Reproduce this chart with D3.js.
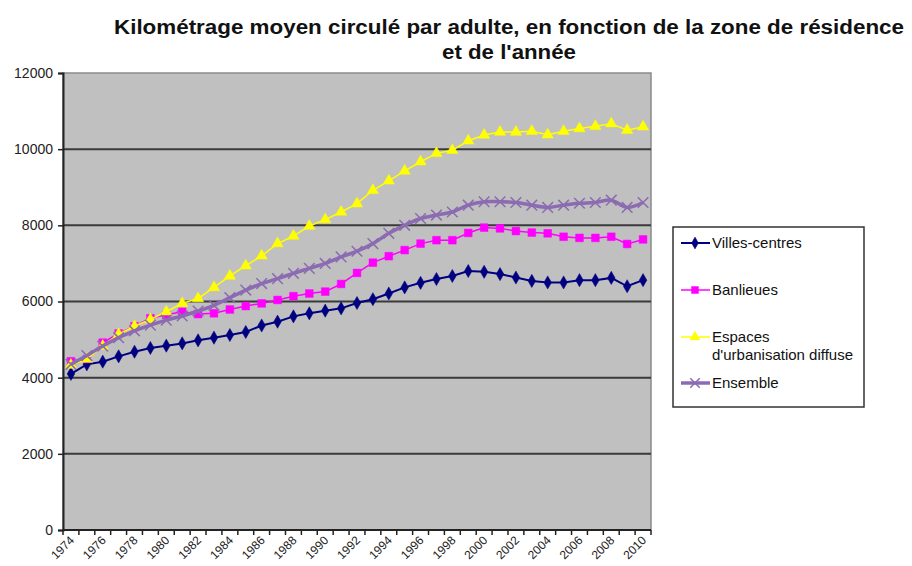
<!DOCTYPE html>
<html>
<head>
<meta charset="utf-8">
<script src="https://cdn.jsdelivr.net/npm/d3@7"></script>
<style>
  body { margin: 0; background: #fff; }
  text { font-family: "Liberation Sans", Arial, sans-serif; }
</style>
</head>
<body>
<svg id="chart" width="912" height="566"></svg>
<script>
const years = d3.range(1974, 2011);
const yearLabels = years.filter((y) => y % 2 === 0);
const yTicks = [0, 2000, 4000, 6000, 8000, 10000, 12000];

const villesCentres = [4100, 4350, 4420, 4560, 4680, 4780, 4840, 4900, 4980, 5050,
  5120, 5200, 5370, 5470, 5610, 5690, 5760, 5820, 5960, 6060, 6210, 6370, 6490,
  6590, 6670, 6800, 6780, 6720, 6630, 6540, 6500, 6500, 6560, 6560, 6620, 6400, 6560];
const banlieues = [4430, 4490, 4920, 5160, 5350, 5560, 5650, 5730, 5670, 5690,
  5790, 5880, 5950, 6040, 6140, 6210, 6260, 6460, 6750, 7020, 7190, 7350, 7520,
  7610, 7610, 7800, 7940, 7920, 7850, 7810, 7790, 7700, 7670, 7670, 7700, 7510, 7630];
const espacesDiffus = [4330, 4490, 4830, 5140, 5350, 5530, 5730, 5950, 6080, 6370,
  6670, 6940, 7200, 7520, 7720, 7980, 8150, 8350, 8570, 8920, 9170, 9430, 9670,
  9890, 9970, 10220, 10370, 10450, 10450, 10470, 10380, 10470, 10540, 10600, 10670, 10500, 10590];
const ensemble = [4350, 4580, 4830, 5050, 5230, 5380, 5510, 5620, 5750, 5900,
  6100, 6300, 6470, 6600, 6740, 6870, 7000, 7170, 7320, 7520, 7790, 8000, 8180,
  8270, 8350, 8530, 8620, 8620, 8600, 8530, 8470, 8530, 8580, 8600, 8660, 8470, 8600];

const seriesNames = ["Villes-centres", "Banlieues", ["Espaces", "d'urbanisation diffuse"], "Ensemble"];

const svg = d3.select("#chart");
const plot = { left: 63, right: 651, top: 73, bottom: 530 };

const xScale = d3.scaleBand().domain(years).range([plot.left, plot.right]);
const yScale = d3.scaleLinear().domain([0, 12000]).range([plot.bottom, plot.top]);
const xc = (d, i) => xScale(years[i]) + xScale.bandwidth() / 2;

// title
const title = svg.append("text")
  .attr("text-anchor", "middle")
  .style("font-weight", "bold")
  .style("font-size", "20px")
  .attr("fill", "#111");
title.append("tspan").attr("x", 509).attr("y", 34)
  .attr("textLength", 790).attr("lengthAdjust", "spacingAndGlyphs")
  .text("Kilométrage moyen circulé par adulte, en fonction de la zone de résidence");
title.append("tspan").attr("x", 509).attr("y", 59)
  .attr("textLength", 134).attr("lengthAdjust", "spacingAndGlyphs")
  .text("et de l'année");

// plot area
svg.append("rect")
  .attr("x", plot.left).attr("y", plot.top)
  .attr("width", plot.right - plot.left).attr("height", plot.bottom - plot.top)
  .attr("fill", "#c0c0c0").attr("stroke", "#8a8a8a").attr("stroke-width", 1.5);

// gridlines
svg.append("g")
  .selectAll("line")
  .data(yTicks.filter((t) => t > 0 && t < 12000))
  .join("line")
  .attr("x1", plot.left).attr("x2", plot.right)
  .attr("y1", (d) => yScale(d)).attr("y2", (d) => yScale(d))
  .attr("stroke", "#3a3a3a").attr("stroke-width", 2);

// y axis
const yAxis = d3.axisLeft(yScale).tickValues(yTicks).tickSize(5).tickPadding(5).tickFormat(d3.format("d"));
const yG = svg.append("g").attr("transform", `translate(${plot.left},0)`).call(yAxis);
yG.select(".domain").attr("stroke", "#222").attr("stroke-width", 2);
yG.selectAll(".tick line").attr("stroke", "#222").attr("stroke-width", 1.5);
yG.selectAll("text").style("font-size", "14px").attr("fill", "#222")
  .style("font-family", "'Liberation Sans', Arial, sans-serif");

// x axis: ticks between categories
svg.append("line")
  .attr("x1", plot.left).attr("x2", plot.right)
  .attr("y1", plot.bottom).attr("y2", plot.bottom)
  .attr("stroke", "#222").attr("stroke-width", 2);
svg.append("g")
  .selectAll("line")
  .data(years.concat([2011]))
  .join("line")
  .attr("x1", (d) => (d === 2011 ? plot.right : xScale(d)))
  .attr("x2", (d) => (d === 2011 ? plot.right : xScale(d)))
  .attr("y1", plot.bottom).attr("y2", plot.bottom + 5)
  .attr("stroke", "#222").attr("stroke-width", 1.5);
svg.append("g")
  .selectAll("text")
  .data(yearLabels)
  .join("text")
  .attr("transform", (d) => `translate(${xScale(d) + xScale.bandwidth() / 2 + 4},${plot.bottom + 11}) rotate(-45)`)
  .attr("text-anchor", "end")
  .style("font-size", "12px")
  .attr("fill", "#222")
  .text((d) => d);

// series
const series = [
  { values: villesCentres, color: "#000080", width: 2, symbol: d3.symbolDiamond, size: 50, curve: d3.curveLinear },
  { values: banlieues, color: "#ff00ff", width: 1.5, symbol: d3.symbolSquare, size: 60, curve: d3.curveLinear },
  { values: espacesDiffus, color: "#ffff00", width: 1.5, symbol: d3.symbolTriangle, size: 55, curve: d3.curveLinear },
  { values: ensemble, color: "#8b6bb1", width: 3.5, symbol: d3.symbolTimes, size: 75, curve: d3.curveCatmullRom, stroke: true }
];

const lineGen = (s) => d3.line().x(xc).y((d) => yScale(d)).curve(s.curve);

series.forEach((s) => {
  const g = svg.append("g");
  g.append("path")
    .datum(s.values)
    .attr("d", lineGen(s))
    .attr("fill", "none")
    .attr("stroke", s.color)
    .attr("stroke-width", s.width);
  g.selectAll("path.m")
    .data(s.values)
    .join("path")
    .attr("class", "m")
    .attr("transform", (d, i) => `translate(${xc(d, i)},${yScale(d)})`)
    .attr("d", d3.symbol().type(s.symbol).size(s.size))
    .attr("fill", s.stroke ? "none" : s.color)
    .attr("stroke", s.color)
    .attr("stroke-width", s.stroke ? 1.5 : 0.5);
});

// legend
const legend = svg.append("g");
legend.append("rect")
  .attr("x", 673).attr("y", 227).attr("width", 191).attr("height", 180)
  .attr("fill", "#fff").attr("stroke", "#333").attr("stroke-width", 1.5);
const legendY = [243, 290, 337, 383];
series.forEach((s, i) => {
  const y = legendY[i];
  legend.append("line")
    .attr("x1", 681).attr("x2", 710).attr("y1", y).attr("y2", y)
    .attr("stroke", s.color).attr("stroke-width", s.width);
  legend.append("path")
    .attr("transform", `translate(695,${y})`)
    .attr("d", d3.symbol().type(s.symbol).size(s.size * 0.8))
    .attr("fill", s.stroke ? "none" : s.color)
    .attr("stroke", s.color)
    .attr("stroke-width", s.stroke ? 1.5 : 0.5);
  const name = seriesNames[i];
  const t = legend.append("text").style("font-size", "15px").attr("fill", "#111");
  if (Array.isArray(name)) {
    t.append("tspan").attr("x", 712).attr("y", y + 5).text(name[0]);
    t.append("tspan").attr("x", 712).attr("y", y + 23).text(name[1]);
  } else {
    t.attr("x", 712).attr("y", y + 5).text(name);
  }
});
</script>
</body>
</html>
